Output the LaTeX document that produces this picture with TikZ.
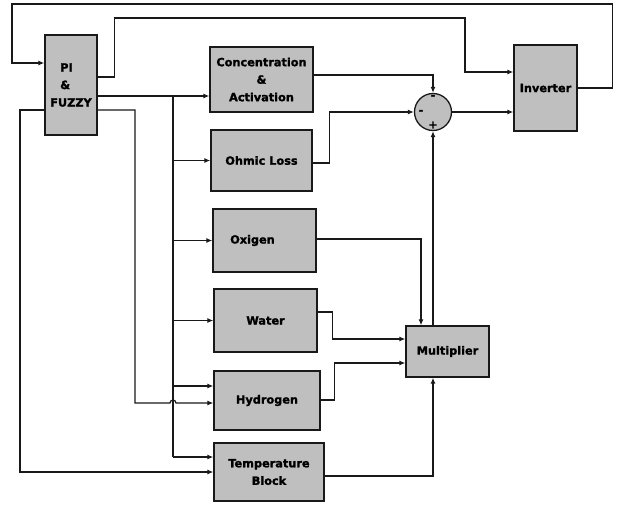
\documentclass[tikz,border=0pt]{standalone}
\usepackage{fontspec}
\setmainfont{DejaVu Sans}[BoldFeatures={FakeBold=1.6}]
\usetikzlibrary{arrows.meta, positioning}

\begin{document}
\begin{tikzpicture}[
    x=1pt, y=-1pt,
    >={Latex[length=6pt,width=5pt]},
    font=\fontsize{11.3}{17.5}\selectfont\bfseries,
    block/.style={rectangle, draw=black!90, line width=1.3pt, fill=black!25, align=center, inner sep=0pt},
    summer/.style={circle, draw=black!90, line width=1.3pt, fill=black!25, minimum size=37pt, inner sep=0pt},
    sign/.style={font=\fontsize{11}{11}\selectfont\bfseries, inner sep=0pt},
    wire/.style={line width=1.2pt, draw=black!90},
    arr/.style={wire, ->}
]
\useasboundingbox (0,0) rectangle (621,506);

% blocks
\node[block, minimum width=52pt, minimum height=100pt, align=left] (pif) at (71,85)
    {\hspace*{10pt}PI\\\hspace*{10pt}\&\\FUZZY};
\node[block, minimum width=103pt, minimum height=65pt] (conc) at (261.5,79.5)
    {Concentration\\\&\\Activation};
\node[block, minimum width=101pt, minimum height=61pt] (ohm) at (261.5,160.5) {Ohmic Loss};
\node[block, minimum width=103pt, minimum height=63pt] (oxi) at (264.5,240.5) {Oxigen\hspace*{24pt}};
\node[block, minimum width=103pt, minimum height=63pt] (wat) at (265.5,320.5) {Water};
\node[block, minimum width=106pt, minimum height=59pt] (hyd) at (267,400.5) {Hydrogen};
\node[block, minimum width=110pt, minimum height=58pt] (temp) at (269,472) {Temperature\\Block};
\node[block, minimum width=63pt, minimum height=86pt] (inv) at (545.5,88) {Inverter};
\node[block, minimum width=83pt, minimum height=51pt] (mult) at (447.5,351.5) {Multiplier};
\node[summer] (sum) at (433,112) {};

\node[sign] (sgnTop) at (433,97) {-};
\node[sign] (sgnLeft) at (421,112) {-};
\node[sign] (sgnBot) at (433,125) {+};

% bus from the controller
\coordinate (bus) at (173,96);
\coordinate (h1) at (173,386);
\coordinate (t1) at (173,457);

\draw[arr] ([yshift=-11pt]pif.east) -- (conc.west |- bus);
\draw[wire] (bus) -- (t1);
\foreach \b in {ohm, oxi, wat}
    \draw[arr] (bus |- \b.west) -- (\b.west);
\draw[arr] (h1) -- (hyd.west |- h1);
\draw[arr] (t1) -- (temp.west |- t1);

% feedback loops
\draw[arr] (inv.east) -- ++(35,0) |- (12,4) |- ([yshift=22pt]pif.west);
\draw[arr] ([yshift=8pt]pif.east) -- ++(17,0) |- (465,18) |- ([yshift=16pt]inv.west);
\draw[arr] ([yshift=-25pt]pif.west) -| (20,472) -- (temp.west);
\draw[arr] ([yshift=-25pt]pif.east) -| (135,403) -- (170,403)
    arc[start angle=180, end angle=0, radius=3pt] -- (hyd.west |- 0,403);

% into the summer
\draw[arr] ([yshift=4.5pt]conc.east) -| (sum.north);
\draw[arr] ([yshift=-2.5pt]ohm.east) -- ++(17,0) |- (sum.west);
\draw[arr] (sum.east) -- (inv.west |- sum.east);
\draw[arr] (sum.south |- mult.north) -- (sum.south);

% into the multiplier
\draw[arr] ([yshift=1.5pt]oxi.east) -| ([xshift=-26.5pt]mult.north);
\draw[arr] ([yshift=8.5pt]wat.east) -- ++(15,0) |- ([yshift=12.5pt]mult.west);
\draw[arr] ([yshift=0.5pt]hyd.east) -- ++(14,0) |- ([yshift=-11.5pt]mult.west);
\draw[arr] ([yshift=-4pt]temp.east) -| (sum.south |- mult.south);
\end{tikzpicture}
\end{document}
